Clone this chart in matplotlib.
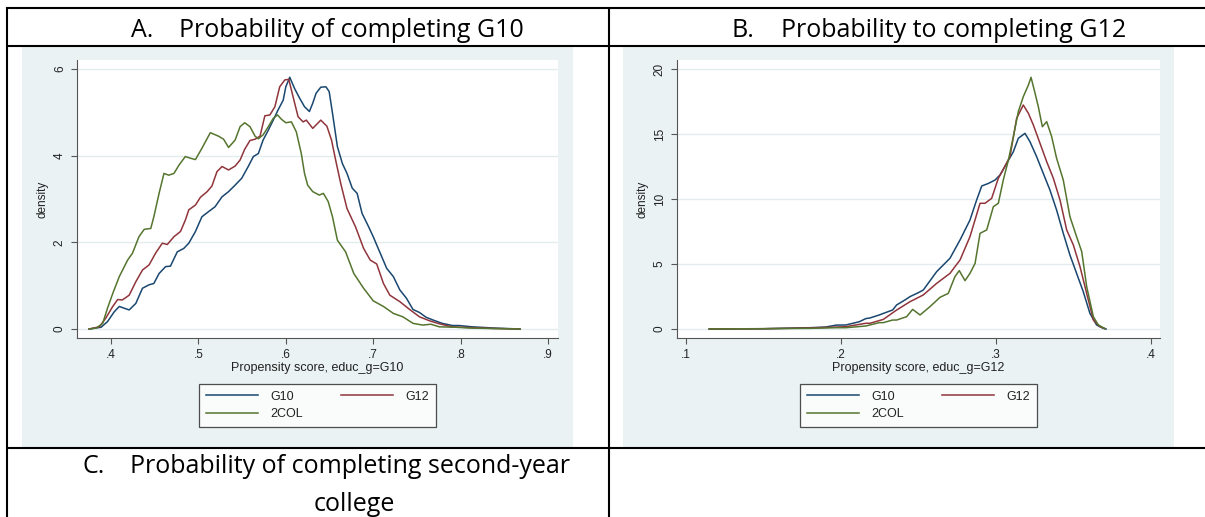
import matplotlib
matplotlib.use("Agg")
import matplotlib.pyplot as plt
from matplotlib.patches import Rectangle
from matplotlib.lines import Line2D

# ---- data (propensity score, density) ----
series_names = ["G10", "G12", "2COL"]
series_colors = ["#1A476F", "#90353B", "#55752F"]

# panel A: propensity score, educ_g=G10
a_x_g10 = [0.375, 0.3886, 0.396, 0.4038, 0.4095, 0.415, 0.4208, 0.4284, 0.436, 0.4436,
           0.449, 0.455, 0.4625, 0.468, 0.4758, 0.4833, 0.489, 0.4966, 0.504, 0.5117,
           0.519, 0.527, 0.5345, 0.542, 0.5496, 0.557, 0.5629, 0.5686, 0.574, 0.58,
           0.5856, 0.591, 0.597, 0.600, 0.6045, 0.610, 0.616, 0.6214, 0.627, 0.6308,
           0.6346, 0.640, 0.6459, 0.6496, 0.6534, 0.659, 0.6647, 0.670, 0.676, 0.6816,
           0.6872, 0.6947, 0.700, 0.708, 0.7154, 0.723, 0.7305, 0.738, 0.7455, 0.753,
           0.7605, 0.768, 0.779, 0.7906, 0.798, 0.813, 0.840, 0.868]
a_d_g10 = [0.0, 0.04, 0.17, 0.40, 0.52, 0.48, 0.44, 0.59, 0.94, 1.02,
           1.05, 1.28, 1.44, 1.45, 1.78, 1.86, 1.98, 2.25, 2.59, 2.71,
           2.82, 3.05, 3.17, 3.32, 3.48, 3.75, 3.98, 4.05, 4.36, 4.59,
           4.82, 5.05, 5.28, 5.59, 5.81, 5.55, 5.32, 5.13, 5.02, 5.21,
           5.44, 5.58, 5.59, 5.48, 4.98, 4.21, 3.82, 3.59, 3.25, 3.13,
           2.67, 2.36, 2.13, 1.75, 1.40, 1.21, 0.90, 0.71, 0.45, 0.38,
           0.27, 0.21, 0.13, 0.08, 0.08, 0.05, 0.02, 0.0]

a_x_g12 = [0.375, 0.3867, 0.394, 0.402, 0.4076, 0.413, 0.4208, 0.4284, 0.436, 0.4436,
           0.451, 0.4587, 0.4644, 0.472, 0.4795, 0.4852, 0.489, 0.4966, 0.5023, 0.510,
           0.5155, 0.5212, 0.527, 0.5345, 0.542, 0.5477, 0.553, 0.559, 0.5648, 0.5705,
           0.576, 0.5818, 0.5875, 0.593, 0.599, 0.6034, 0.6083, 0.614, 0.6197, 0.6235,
           0.6308, 0.640, 0.647, 0.6523, 0.657, 0.6628, 0.670, 0.6797, 0.689, 0.6966,
           0.704, 0.7117, 0.719, 0.7305, 0.7417, 0.753, 0.7643, 0.7756, 0.790, 0.813,
           0.840, 0.868]
a_d_g12 = [0.0, 0.05, 0.25, 0.52, 0.68, 0.67, 0.78, 1.09, 1.36, 1.48,
           1.75, 1.98, 1.95, 2.13, 2.25, 2.52, 2.75, 2.86, 3.04, 3.17,
           3.30, 3.63, 3.75, 3.67, 3.76, 3.90, 4.15, 4.35, 4.38, 4.45,
           4.92, 4.94, 5.13, 5.59, 5.75, 5.76, 5.36, 4.90, 4.78, 4.82,
           4.63, 4.82, 4.68, 4.36, 3.90, 3.36, 2.78, 2.36, 1.86, 1.59,
           1.50, 1.05, 0.78, 0.63, 0.45, 0.28, 0.19, 0.12, 0.05, 0.03,
           0.01, 0.0]

a_x_2col = [0.375, 0.383, 0.3905, 0.396, 0.402, 0.4095, 0.419, 0.4246, 0.432, 0.438,
            0.4455, 0.449, 0.455, 0.4606, 0.466, 0.472, 0.4777, 0.485, 0.491, 0.4966,
            0.504, 0.5136, 0.523, 0.5288, 0.5345, 0.542, 0.5477, 0.553, 0.559, 0.5648,
            0.5686, 0.574, 0.580, 0.5856, 0.5905, 0.595, 0.600, 0.6064, 0.612, 0.6177,
            0.6214, 0.625, 0.6308, 0.6383, 0.643, 0.6485, 0.6534, 0.659, 0.6684, 0.6778,
            0.689, 0.700, 0.7117, 0.723, 0.734, 0.7455, 0.7568, 0.766, 0.7756, 0.794,
            0.813, 0.840, 0.868]
a_d_2col = [0.0, 0.02, 0.13, 0.48, 0.82, 1.21, 1.59, 1.75, 2.13, 2.30,
            2.32, 2.59, 3.13, 3.59, 3.55, 3.59, 3.78, 3.98, 3.94, 3.91,
            4.17, 4.53, 4.45, 4.38, 4.19, 4.36, 4.67, 4.76, 4.67, 4.45,
            4.39, 4.48, 4.67, 4.86, 4.94, 4.84, 4.76, 4.78, 4.55, 4.05,
            3.59, 3.32, 3.17, 3.09, 3.13, 2.94, 2.59, 2.05, 1.78, 1.28,
            0.94, 0.65, 0.52, 0.36, 0.28, 0.13, 0.09, 0.11, 0.05, 0.04,
            0.02, 0.01, 0.0]

# panel B: propensity score, educ_g=G12
b_x_g10 = [0.115, 0.150, 0.180, 0.190, 0.197, 0.2032, 0.2118, 0.216, 0.2187, 0.2247,
           0.2273, 0.2333, 0.2359, 0.2419, 0.2445, 0.250, 0.2531, 0.2617, 0.2703, 0.2768,
           0.2832, 0.2875, 0.2908, 0.2951, 0.2994, 0.3026, 0.3069, 0.3112, 0.3144, 0.3187,
           0.3219, 0.3262, 0.3305, 0.3348, 0.3391, 0.3434, 0.3477, 0.352, 0.3563, 0.3606,
           0.3649, 0.3692, 0.371]
b_d_g10 = [0.0, 0.02, 0.10, 0.15, 0.30, 0.31, 0.56, 0.80, 0.85, 1.08,
           1.20, 1.46, 1.85, 2.28, 2.49, 2.80, 3.00, 4.41, 5.44, 6.85,
           8.38, 9.92, 11.0, 11.2, 11.46, 11.85, 12.74, 13.64, 14.67, 15.05,
           14.41, 13.26, 11.97, 10.69, 9.15, 7.36, 5.69, 4.28, 2.87, 1.20,
           0.31, 0.05, 0.0]

b_x_g12 = [0.115, 0.150, 0.180, 0.197, 0.2032, 0.216, 0.2187, 0.2273, 0.2359, 0.2445,
           0.2531, 0.2617, 0.2703, 0.2768, 0.2832, 0.2897, 0.2929, 0.2972, 0.3015, 0.3047,
           0.309, 0.3133, 0.3176, 0.3209, 0.3241, 0.3284, 0.3327, 0.337, 0.3413, 0.3456,
           0.3499, 0.3542, 0.3585, 0.3628, 0.3671, 0.3703]
b_d_g12 = [0.0, 0.02, 0.08, 0.15, 0.18, 0.44, 0.44, 0.74, 1.46, 2.10,
           2.62, 3.51, 4.28, 5.31, 7.10, 9.67, 9.67, 10.05, 11.59, 12.28,
           13.26, 16.2, 17.23, 16.59, 15.69, 14.28, 12.87, 11.59, 9.92, 7.62,
           6.46, 4.79, 2.74, 0.69, 0.18, 0.03]

b_x_2col = [0.115, 0.180, 0.197, 0.2032, 0.216, 0.2187, 0.2247, 0.2273, 0.2333, 0.2359,
            0.2424, 0.2462, 0.251, 0.2574, 0.2639, 0.2692, 0.2735, 0.2763, 0.280, 0.2832,
            0.2865, 0.2897, 0.294, 0.2983, 0.3015, 0.3047, 0.308, 0.3112, 0.3144, 0.3176,
            0.3209, 0.3226, 0.3252, 0.3273, 0.3299, 0.3327, 0.3359, 0.3391, 0.3434, 0.3477,
            0.352, 0.3553, 0.3585, 0.3628, 0.366, 0.3703]
b_d_2col = [0.0, 0.05, 0.10, 0.10, 0.23, 0.31, 0.49, 0.49, 0.69, 0.69,
            0.95, 1.51, 1.08, 1.72, 2.44, 2.74, 4.03, 4.49, 3.72, 4.28,
            5.05, 7.36, 7.62, 9.41, 9.67, 11.46, 13.0, 14.8, 16.72, 17.87,
            18.77, 19.36, 18.13, 17.1, 15.56, 15.95, 14.8, 13.13, 11.46, 8.64,
            7.10, 5.95, 3.26, 0.95, 0.31, 0.03]

a_xticks = [0.4, 0.5, 0.6, 0.7, 0.8, 0.9]
a_xticklabels = [".4", ".5", ".6", ".7", ".8", ".9"]
a_yticks = [0, 2, 4, 6]
b_xticks = [0.1, 0.2, 0.3, 0.4]
b_xticklabels = [".1", ".2", ".3", ".4"]
b_yticks = [0, 5, 10, 15, 20]

panel_titles = ["Probability of completing G10", "Probability to completing G12"]
panel_letters = ["A.", "B."]
xlabels = ["Propensity score, educ_g=G10", "Propensity score, educ_g=G12"]

W, H = 1205, 517
BG = "#EAF2F3"


def fx(x):
    return x / W


def fy(y):
    return 1 - y / H


plt.rcParams["font.family"] = ["Liberation Sans", "DejaVu Sans"]

fig = plt.figure(figsize=(W / 100, H / 100), dpi=100)
fig.patch.set_facecolor("white")

# stata graph regions (light bluish-gray)
for x0, x1 in [(22, 573), (623, 1174)]:
    fig.add_artist(Rectangle((fx(x0), fy(447)), (x1 - x0) / W, 400 / H,
                             transform=fig.transFigure, facecolor=BG,
                             edgecolor="none", zorder=0))

panels = [
    dict(left=77, right=558, xlim=(0.3611, 0.9114), ylim=(-0.208, 6.208),
         xticks=a_xticks, xticklabels=a_xticklabels, yticks=a_yticks,
         data=[(a_x_g10, a_d_g10), (a_x_g12, a_d_g12), (a_x_2col, a_d_2col)]),
    dict(left=677, right=1160, xlim=(0.0942, 0.4058), ylim=(-0.692, 20.692),
         xticks=b_xticks, xticklabels=b_xticklabels, yticks=b_yticks,
         data=[(b_x_g10, b_d_g10), (b_x_g12, b_d_g12), (b_x_2col, b_d_2col)]),
]

for i, p in enumerate(panels):
    ax = fig.add_axes([fx(p["left"]), fy(338), (p["right"] - p["left"]) / W, 278 / H])
    ax.set_facecolor("white")
    for (xs, ds), name, col in zip(p["data"], series_names, series_colors):
        ax.plot(xs, ds, color=col, lw=1.1, label=name, zorder=3)
    ax.set_xlim(*p["xlim"])
    ax.set_ylim(*p["ylim"])
    ax.set_xticks(p["xticks"])
    ax.set_xticklabels(p["xticklabels"])
    ax.set_yticks(p["yticks"])
    ax.set_yticklabels([str(t) for t in p["yticks"]], rotation=90, va="center")
    ax.grid(axis="y", color="#E3EDEF", lw=1.0, zorder=0)
    ax.set_axisbelow(True)
    for side in ("top", "right"):
        ax.spines[side].set_visible(False)
    for side in ("left", "bottom"):
        ax.spines[side].set_color("#555555")
        ax.spines[side].set_linewidth(0.8)
    ax.tick_params(direction="out", length=4, width=0.8, color="#555555",
                   labelsize=8.5, labelcolor="#222222", pad=4)
    ax.set_xlabel(xlabels[i], fontsize=9, color="#222222", labelpad=1)
    ax.set_ylabel("density", fontsize=8.5, color="#222222", labelpad=4)

    handles = [Line2D([], [], color=c, lw=1.1) for c in series_colors]
    order = [0, 2, 1]
    cx = (p["left"] + p["right"]) / 2
    leg = fig.legend([handles[k] for k in order], [series_names[k] for k in order],
                     loc="center", bbox_to_anchor=(fx(cx), fy(405.5)), ncol=2,
                     fontsize=9, frameon=True, fancybox=False, edgecolor="#222222",
                     handlelength=4.2, handletextpad=1.0, columnspacing=3.0,
                     labelspacing=0.45, borderpad=0.5, borderaxespad=0)
    leg.get_frame().set_linewidth(0.9)
    for t in leg.get_texts():
        t.set_color("#222222")

# document table lines
lk = dict(color="black", lw=1.5, transform=fig.transFigure, solid_capstyle="butt")
fig.add_artist(Line2D([fx(6), 1], [fy(8), fy(8)], **lk))
fig.add_artist(Line2D([fx(6), 1], [fy(46), fy(46)], **lk))
fig.add_artist(Line2D([fx(6), 1], [fy(448), fy(448)], **lk))
fig.add_artist(Line2D([fx(7), fx(7)], [fy(7), 0], **lk))
fig.add_artist(Line2D([fx(609), fx(609)], [fy(7), 0], **lk))

tk = dict(fontsize=18, family=["Open Sans", "DejaVu Sans"], color="black", va="baseline")
fig.text(fx(131), fy(37), panel_letters[0], **tk)
fig.text(fx(179), fy(37), panel_titles[0], **tk)
fig.text(fx(732), fy(37), panel_letters[1], **tk)
fig.text(fx(781), fy(37), panel_titles[1], **tk)
fig.text(fx(82), fy(473), "C.", **tk)
fig.text(fx(130), fy(473), "Probability of completing second-year", **tk)
fig.text(fx(314), fy(511), "college", **tk)

fig.savefig("out.png", dpi=100, facecolor="white")
